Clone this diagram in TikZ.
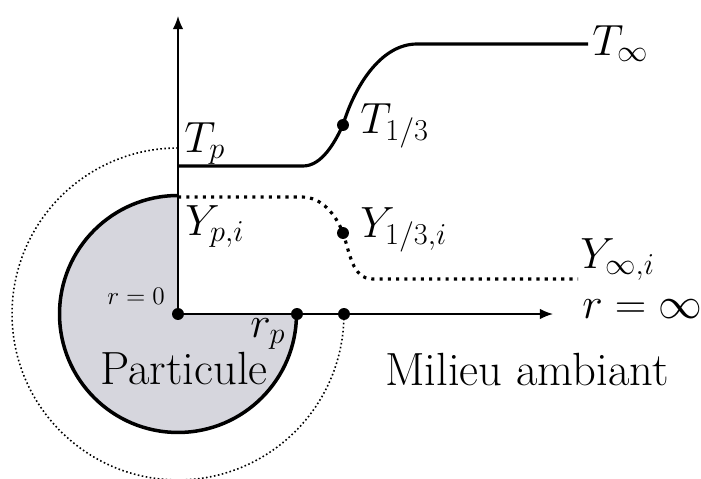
\documentclass[tikz,border=0pt]{standalone}
\usetikzlibrary{arrows.meta}
\definecolor{particle}{RGB}{214,214,221}
\tikzset{
  axis/.style={line width=0.85pt,-{Latex[length=7.5pt,width=6pt]}},
  curveT/.style={line width=1.8pt},
  curveY/.style={line width=1.8pt,dash pattern=on 1.8pt off 2.9pt},
  halo/.style={line width=0.9pt,dash pattern=on 0.9pt off 1.4pt},
  rim/.style={line width=2pt},
  lbl/.style={inner sep=0pt,anchor=base west,font=\fontsize{26.5}{31}\selectfont},
  slbl/.style={inner sep=0pt,anchor=base west,font=\fontsize{15}{18}\selectfont},
  dotpt/.style={circle,fill=black,inner sep=0pt,minimum size=6.8pt}
}
\begin{document}
\begin{tikzpicture}[x=0.02cm,y=0.02cm]
\useasboundingbox (0,0) rectangle (701,-478);
\clip (0,0) rectangle (701,-478);
\coordinate (O) at (178,-314);
\coordinate (ytip) at (178,-16);
\coordinate (xtip) at (553,-314);
\coordinate (top) at (178,-195.5);
\coordinate (htop) at (178,-148);
% particle
\fill[particle] (O) -- (top) arc[start angle=90,end angle=360,radius=2.37cm] -- cycle;
\draw[rim] (top) arc[start angle=90,end angle=360,radius=2.37cm];
% dotted halo
\draw[halo] (htop) arc[start angle=90,end angle=360,radius=3.32cm];
% axes
\draw[axis] (O) -- (ytip);
\draw[axis] (O) -- (xtip);
% temperature curve
\coordinate (T0) at (178,-166);
\coordinate (T1) at (303,-166);
\coordinate (T3) at (417,-44);
\coordinate (T4) at (588,-44);
\node[dotpt] (Tm) at (343,-125) {};
\draw[curveT] (T0) -- (T1) .. controls (322,-166) and (335,-142) .. (Tm.center)
  .. controls (354,-88) and (380,-44) .. (T3) -- (T4);
% mass fraction curve
\coordinate (Y0) at (178,-197);
\coordinate (Y1) at (302,-197);
\coordinate (Y3) at (373,-279);
\coordinate (Y4) at (578,-279);
\node[dotpt] (Ym) at (343,-233) {};
\draw[curveY] (Y0) -- (Y1) .. controls (322,-197) and (336,-215) .. (Ym.center)
  .. controls (350,-253) and (352,-279) .. (Y3) -- (Y4);
% axis points
\node[dotpt] (p0) at (O) {};
\node[dotpt] (prp) at (297,-314) {};
\node[dotpt] (pr3) at (344,-314) {};
% labels
\node[lbl] (lTp) at (184,-152) {$T_p$};
\node[lbl] (lT3) at (360,-133) {$T_{1/3}$};
\node[lbl] (lTi) at (592,-55) {$T_\infty$};
\node[lbl] (lYp) at (185,-235) {$Y_{p,i}$};
\node[lbl] (lY3) at (360,-237) {$Y_{1/3,i}$};
\node[lbl] (lYi) at (580,-268) {$Y_{\infty,i}$};
\node[lbl] (lri) at (582,-318) {$r=\infty$};
\node[slbl] (lr0) at (107,-304) {$r=0$};
\node[lbl] (lrp) at (250,-337) {$r_p$};
\node[lbl] (lpart) at (100,-384) {Particule};
\node[lbl] (lmil) at (385,-385) {Milieu ambiant};
\end{tikzpicture}
\end{document}
